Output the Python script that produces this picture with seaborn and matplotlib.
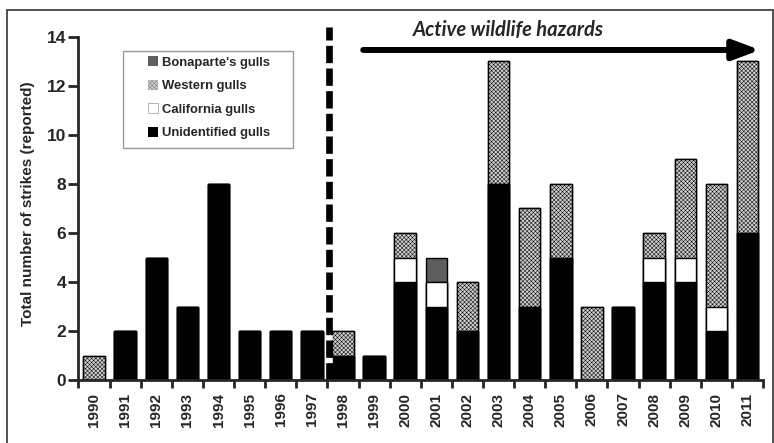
import matplotlib
matplotlib.use('Agg')
import matplotlib.pyplot as plt
import seaborn as sns
import pandas as pd
import numpy as np
from matplotlib.patches import Patch, Rectangle

years = ['1990', '1991', '1992', '1993', '1994', '1995', '1996', '1997', '1998', '1999', '2000',
         '2001', '2002', '2003', '2004', '2005', '2006', '2007', '2008', '2009', '2010', '2011']
unidentified = [0, 2, 5, 3, 8, 2, 2, 2, 1, 1, 4, 3, 2, 8, 3, 5, 0, 3, 4, 4, 2, 6]
california = [0, 0, 0, 0, 0, 0, 0, 0, 0, 0, 1, 1, 0, 0, 0, 0, 0, 0, 1, 1, 1, 0]
western = [1, 0, 0, 0, 0, 0, 0, 0, 1, 0, 1, 0, 2, 5, 4, 3, 3, 0, 1, 4, 5, 7]
bonaparte = [0, 0, 0, 0, 0, 0, 0, 0, 0, 0, 0, 1, 0, 0, 0, 0, 0, 0, 0, 0, 0, 0]
legend_labels = ["Bonaparte's gulls", "Western gulls", "California gulls", "Unidentified gulls"]
yticks = [0, 2, 4, 6, 8, 10, 12, 14]
annotation = "Active wildlife hazards"
ylabel = "Total number of strikes (reported)"

sns.set_style('ticks')
plt.rcParams['font.family'] = ['Liberation Sans', 'DejaVu Sans']
plt.rcParams['font.weight'] = 'bold'
plt.rcParams['hatch.linewidth'] = 0.35

df = pd.DataFrame({'year': years, 'U': unidentified, 'C': california,
                   'W': western, 'B': bonaparte})
df['cum_U'] = df['U']
df['cum_C'] = df['cum_U'] + df['C']
df['cum_W'] = df['cum_C'] + df['W']
df['cum_B'] = df['cum_W'] + df['B']

fig = plt.figure(figsize=(7.74, 4.43), dpi=100)
ax = fig.add_axes([0.1014, 0.1422, 0.8845, 0.8296])

c_b, c_w, c_c, c_u = '#5e5e5e', '#cfcfcf', 'white', 'black'
hatch_w = 'xxxxxxxx'
layers = [('cum_B', c_b, None), ('cum_W', c_w, hatch_w),
          ('cum_C', c_c, None), ('cum_U', c_u, None)]
for col, color, hatch in layers:
    sns.barplot(data=df, x='year', y=col, color=color, saturation=1, width=0.69,
                edgecolor='black', linewidth=1, hatch=hatch, errorbar=None,
                order=years, ax=ax)

ax.set_xlim(-0.5, 21.5)
ax.set_ylim(0, 15)
for s in ['top', 'right']:
    ax.spines[s].set_visible(False)
ax.spines['left'].set_bounds(0, 14)
ax.spines['left'].set_linewidth(2)
ax.spines['bottom'].set_linewidth(2)

ax.set_yticks(yticks)
ax.set_yticklabels([str(v) for v in yticks], fontsize=12.5, fontweight='bold')
ax.tick_params(axis='y', length=7, width=2, pad=2, direction='out', left=True)
ax.set_xticks(range(len(years)))
ax.set_xticklabels(years, rotation=90, fontsize=11, fontweight='bold')
ax.set_xticks(np.arange(-0.5, len(years), 1), minor=True)
ax.tick_params(axis='x', which='major', length=0, pad=9)
ax.tick_params(axis='x', which='minor', length=6, width=2, direction='out', bottom=True)
ax.set_xlabel('')
ax.set_ylabel(ylabel, fontsize=11, fontweight='bold')
ax.yaxis.set_label_coords(-0.0636, 0.479)

# dashed separator
ax.plot([7.55, 7.55], [0, 14.4], color='black', lw=4.8, dashes=(2.6, 0.8),
        gapcolor='white', solid_capstyle='butt', dash_capstyle='butt')

# arrow
ax.annotate('', xy=(21.4, 13.47), xytext=(8.65, 13.47),
            arrowprops=dict(arrowstyle='-|>,head_length=1.6,head_width=0.6', lw=4.3,
                            color='black', shrinkA=0, shrinkB=0, mutation_scale=10,
                            joinstyle='round'))
ax.text(13.3, 14.3, annotation, ha='center', va='center', fontsize=14.5,
        fontstyle='italic', fontweight='bold', family=['Lato', 'DejaVu Sans'])

# legend
handles = [Patch(facecolor=c_b, edgecolor='none'),
           Patch(facecolor=c_w, edgecolor='#777777', hatch=hatch_w, lw=0),
           Patch(facecolor=c_c, edgecolor='#aaaaaa', lw=0.6),
           Patch(facecolor=c_u, edgecolor='none')]
ax.legend(handles, legend_labels, loc='upper left', bbox_to_anchor=(0.1015, 0.8816),
          borderaxespad=0, borderpad=0, frameon=False, handlelength=0.8, handleheight=0.8,
          handletextpad=0.3, labelspacing=0.85, prop={'size': 9.4, 'weight': 'bold'})
ax.add_patch(Rectangle((0.065, 0.6313), 0.3134 - 0.065, 0.8952 - 0.6313,
                       transform=ax.transAxes, fill=False, edgecolor='#999999', lw=1))

fig.add_artist(Rectangle((7 / 774, -0.02), (773 - 7) / 774, 0.9763 + 0.02,
                         transform=fig.transFigure, fill=False, edgecolor='#333333', lw=1.2))

fig.savefig('out.png', dpi=100)
